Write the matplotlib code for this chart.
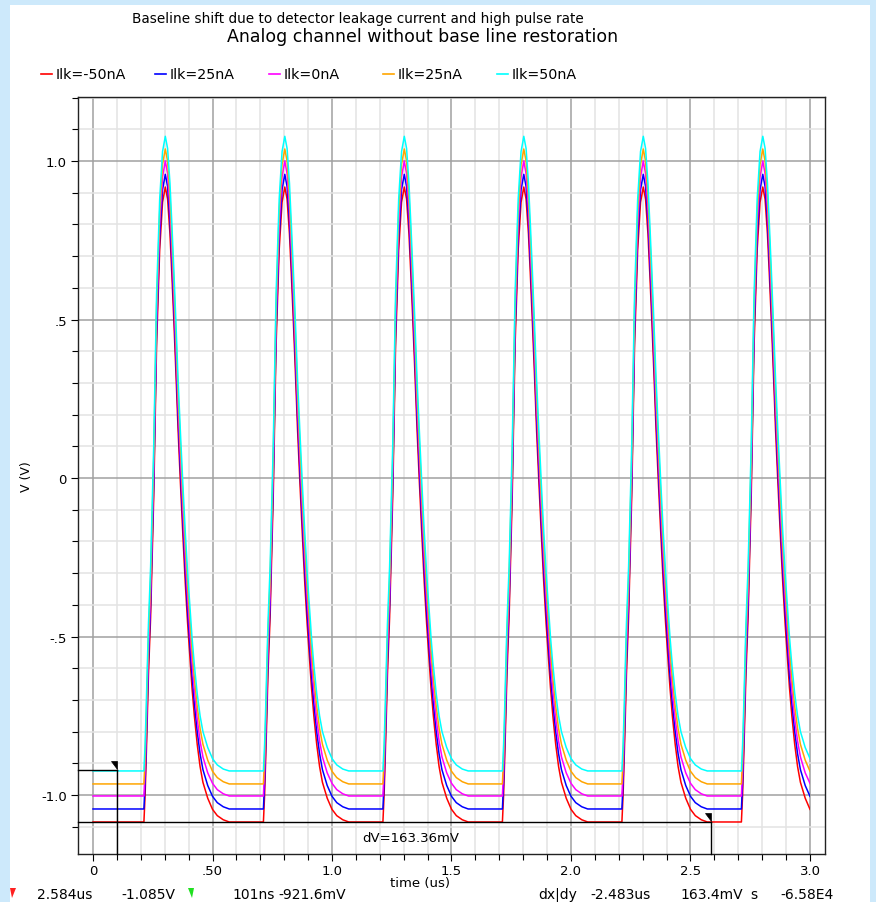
import matplotlib
matplotlib.use("Agg")
import matplotlib.pyplot as plt
from matplotlib.patches import Rectangle, Polygon
from matplotlib.lines import Line2D
from matplotlib.ticker import MultipleLocator

# ---------------- data ----------------
title_top = "Baseline shift due to detector leakage current and high pulse rate"
title_main = "Analog channel without base line restoration"
x_label = "time (us)"
y_label = "V (V)"

series_labels = ["Ilk=-50nA", "Ilk=25nA", "Ilk=0nA", "Ilk=25nA", "Ilk=50nA"]
series_colors = ["#ff0000", "#0000ff", "#ff00ff", "#ffa500", "#00ffff"]

# start of each 0.5 us period (pulse rises ~0.21 us after it)
pulse_starts = [0.0, 0.5, 1.0, 1.5, 2.0, 2.5]
# time points within a period (us)
pulse_t = [0.200, 0.213, 0.218, 0.222, 0.232, 0.241, 0.254, 0.266, 0.279, 0.291,
           0.3025, 0.312, 0.322, 0.330, 0.338, 0.347, 0.356, 0.366, 0.376, 0.386,
           0.396, 0.405, 0.414, 0.424, 0.436, 0.448, 0.460, 0.480, 0.500, 0.520,
           0.545, 0.570]
v_m50 = [-1.085, -1.085, -1.00, -0.90, -0.62, -0.44, -0.06, 0.42, 0.72, 0.87,
         0.918, 0.88, 0.77, 0.64, 0.50, 0.33, 0.15, -0.02, -0.18, -0.33,
         -0.46, -0.56, -0.66, -0.75, -0.84, -0.91, -0.96, -1.01, -1.045, -1.065,
         -1.078, -1.085]
v_m25 = [-1.044, -1.044, -0.96, -0.86, -0.58, -0.40, -0.02, 0.46, 0.76, 0.91,
         0.958, 0.92, 0.81, 0.68, 0.54, 0.37, 0.19, 0.02, -0.14, -0.29,
         -0.42, -0.52, -0.62, -0.71, -0.80, -0.87, -0.92, -0.97, -1.004, -1.024,
         -1.037, -1.044]
v_0 = [-1.003, -1.003, -0.92, -0.82, -0.54, -0.36, 0.02, 0.50, 0.80, 0.95,
       1.000, 0.96, 0.85, 0.72, 0.58, 0.41, 0.23, 0.06, -0.10, -0.25,
       -0.38, -0.48, -0.58, -0.67, -0.76, -0.83, -0.88, -0.93, -0.963, -0.983,
       -0.996, -1.003]
v_p25 = [-0.965, -0.965, -0.88, -0.78, -0.50, -0.32, 0.06, 0.54, 0.84, 0.99,
         1.038, 1.00, 0.89, 0.76, 0.62, 0.45, 0.27, 0.10, -0.06, -0.21,
         -0.34, -0.44, -0.54, -0.63, -0.72, -0.79, -0.84, -0.89, -0.925, -0.945,
         -0.958, -0.965]
v_p50 = [-0.924, -0.924, -0.84, -0.74, -0.46, -0.28, 0.10, 0.58, 0.88, 1.03,
         1.078, 1.04, 0.93, 0.80, 0.66, 0.49, 0.31, 0.14, -0.02, -0.17,
         -0.30, -0.40, -0.50, -0.59, -0.68, -0.75, -0.80, -0.85, -0.885, -0.905,
         -0.918, -0.924]
series_values = [v_m50, v_m25, v_0, v_p25, v_p50]

x_ticks = [0, 0.5, 1.0, 1.5, 2.0, 2.5, 3.0]
x_tick_labels = ["0", ".50", "1.0", "1.5", "2.0", "2.5", "3.0"]
y_ticks = [1.0, 0.5, 0.0, -0.5, -1.0]
y_tick_labels = ["1.0", ".5", "0", "-.5", "-1.0"]

cursor_a = (0.101, -0.9216)
cursor_b = (2.584, -1.085)
dv_text = "dV=163.36mV"
status_texts = [("2.584us", 37), ("-1.085V", 121), ("101ns", 232), ("-921.6mV", 278),
                ("dx|dy", 538), ("-2.483us", 590), ("163.4mV", 680), ("s", 750),
                ("-6.58E4", 780)]

# ---------------- figure ----------------
W, H = 876, 903
fig = plt.figure(figsize=(W / 100, H / 100), dpi=100)
fig.patch.set_facecolor("#cde9fb")


def fx(x):
    return x / W


def fy(y):
    return 1 - y / H


# white page (behind everything)
fig.patches.append(Rectangle((fx(10), 0), fx(860), fy(6), transform=fig.transFigure,
                             facecolor="white", edgecolor="none", zorder=-10))

ax = fig.add_axes([fx(78), fy(855), fx(825 - 78), (855 - 98) / H])
ax.set_zorder(2)
ax.set_facecolor("white")
ax.set_xlim(-0.0628, 3.0628)
ax.set_ylim(-1.186, 1.202)

# grid
ax.xaxis.set_minor_locator(MultipleLocator(0.1))
ax.yaxis.set_minor_locator(MultipleLocator(0.1))
ax.set_xticks(x_ticks)
ax.set_xticklabels(x_tick_labels)
ax.set_yticks(y_ticks)
ax.set_yticklabels(y_tick_labels)
ax.grid(which="major", color="#a0a0a0", linewidth=1.1, zorder=0)
ax.grid(which="minor", color="#e3e3e3", linewidth=1.1, zorder=0)
ax.set_axisbelow(True)
ax.tick_params(which="major", direction="out", length=5, width=0.8, labelsize=9.5,
               colors="black", pad=3)
ax.tick_params(axis="x", which="major", pad=2)
ax.tick_params(which="minor", direction="out", length=4, width=0.8)
for s in ax.spines.values():
    s.set_color("#222222")
    s.set_linewidth(1.0)

# traces
clip_rect = Rectangle((-0.1, -2.0), 3.1, 4.0, transform=ax.transData)
for vals, col, lab in zip(series_values, series_colors, series_labels):
    t = [0.0]
    v = [vals[0]]
    for s0 in pulse_starts:
        t.extend(s0 + pt for pt in pulse_t)
        v.extend(vals)
    ln, = ax.plot(t, v, color=col, linewidth=1.1, label=lab, zorder=3)
    ln.set_clip_path(clip_rect)

# cursors
x0 = ax.get_xlim()[0]
y0 = ax.get_ylim()[0]
dxu = 6 / 239.0   # 6 px in us
dyu = 1 / 317.0   # 1 px in V
for cx, cy in (cursor_a, cursor_b):
    ax.plot([x0, cx], [cy, cy], color="black", linewidth=1.0, zorder=4, clip_on=False)
    ax.plot([cx, cx], [cy, y0], color="black", linewidth=1.0, zorder=4, clip_on=False)
    ax.add_patch(Polygon([[cx - dxu, cy + 9 * dyu], [cx, cy + 9 * dyu], [cx, cy + 1 * dyu]],
                         closed=True, facecolor="black", edgecolor="black",
                         linewidth=0.5, zorder=5))
ax.text(1.33, -1.133, dv_text, fontsize=9.5, ha="center", va="center", zorder=5)

# labels
ax.set_xlabel(x_label, fontsize=9.5)
ax.xaxis.set_label_coords((420 - 78) / 747, -(884 - 855) / 757, transform=ax.transAxes)
ax.xaxis.label.set_va("center")
ax.set_ylabel(y_label, fontsize=9, labelpad=6)

fig.text(fx(358), fy(19), title_top, fontsize=9.8, ha="center", va="center")
fig.text(fx(423), fy(37), title_main, fontsize=12.5, ha="center", va="center")

# legend (manual)
for i, (lab, col) in enumerate(zip(series_labels, series_colors)):
    lx = 41 + i * 114
    fig.lines.append(Line2D([fx(lx), fx(lx + 11)], [fy(75), fy(75)],
                            transform=fig.transFigure, color=col, linewidth=1.2))
    fig.text(fx(lx + 15), fy(75), lab, fontsize=10.3, ha="left", va="center")

# status bar
fig.patches.append(Polygon([[fx(10), fy(889)], [fx(16), fy(889)], [fx(12), fy(899)]],
                           closed=True, transform=fig.transFigure, facecolor="#ff2020",
                           edgecolor="none"))
fig.patches.append(Polygon([[fx(188), fy(889)], [fx(194), fy(889)], [fx(192), fy(899)]],
                           closed=True, transform=fig.transFigure, facecolor="#20e020",
                           edgecolor="none"))
for txt, px in status_texts:
    fig.text(fx(px), fy(895), txt, fontsize=10, ha="left", va="center")

fig.savefig("out.png", dpi=100, facecolor=fig.get_facecolor())
